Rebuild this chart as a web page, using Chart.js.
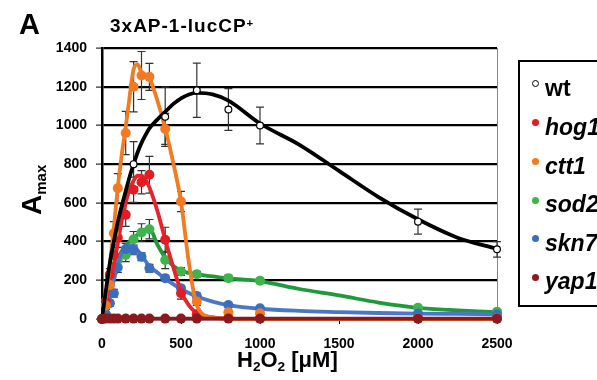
<!DOCTYPE html>
<html>
<head>
<meta charset="utf-8">
<script src="https://cdn.jsdelivr.net/npm/chart.js@4.4.1/dist/chart.umd.min.js"></script>
<style>
  html, body { margin: 0; padding: 0; background: #fff; overflow: hidden; }
  body { width: 597px; height: 380px; position: relative; font-family: "Liberation Sans", Arial, sans-serif; color: #000; }
  #chart { position: absolute; left: 0; top: 0; }
  .txt { position: absolute; white-space: nowrap; font-weight: bold; line-height: 1; }
  #legend { position: absolute; left: 518px; top: 60px; width: 120px; height: 243px; border: 2px solid #000; }
  .item { position: absolute; left: 25px; font-size: 23px; font-weight: bold; line-height: 1; white-space: nowrap; }
  .dot { position: absolute; left: 12px; width: 7px; height: 7px; border-radius: 50%; }
  .lo { position: relative; top: 0.3em; font-size: 0.62em; }
  .hi { position: relative; top: -0.45em; font-size: 0.6em; }
</style>
</head>
<body>
<canvas id="chart" width="597" height="380"></canvas>

<div class="txt" style="left:19px; top:10px; font-size:29px;">A</div>
<div class="txt" style="left:110px; top:16px; font-size:19px; letter-spacing:1px;">3xAP-1-lucCP<span class="hi">+</span></div>
<div class="txt" style="left:18px; top:215px; font-size:28px; transform-origin:0 0; transform:rotate(-90deg);">A<span class="lo" style="font-size:15px;top:5px;">max</span></div>
<div class="txt" style="left:237px; top:349px; font-size:22px;">H<span class="lo">2</span>O<span class="lo">2</span> [&mu;M]</div>

<div id="legend"></div>

<script>
// H2O2 concentrations (uM) of the measured points
const concX = [0, 25, 50, 75, 100, 150, 200, 250, 300, 400, 500, 600, 800, 1000, 2000, 2500];

// measured Amax per strain (null = not visible)
const wtY   = [null, null, null, null, null, null, 800, null, null, 1045, null, 1182, 1082, 1000, 503, 360];
const hog1Y = [0, 90, 230, 330, 420, 538, 668, 706, 745, 409, 133, 25, 5, 3, 2, 2];
const ctt1Y = [0, 70, 176, 443, 676, 961, 1200, 1258, 1251, 982, 607, 90, 35, 30, 5, 5];
const sod2Y = [0, 90, 217, 262, 307, 331, 412, 447, 464, 305, 245, 231, 211, 198, 58, 38];
const skn7Y = [0, 25, 81, 133, 266, 361, 357, 322, 262, 211, 159, 119, 72, 55, 28, 25];
const yap1Y = [0, 2, 2, 2, 2, 2, 2, 2, 2, 2, 2, 2, 2, 2, 2, 2];

// error bars (+/-)
const wtErr   = [0, 0, 0, 0, 0, 0, 116, 0, 0, 153, 0, 140, 108, 95, 65, 40];
const hog1Err = [0, 20, 30, 40, 50, 60, 65, 60, 95, 65, 30, 10, 5, 5, 0, 0];
const ctt1Err = [0, 20, 40, 60, 75, 112, 130, 124, 70, 80, 52, 20, 10, 10, 0, 0];
const sod2Err = [0, 15, 20, 25, 30, 35, 40, 45, 50, 45, 20, 15, 15, 12, 10, 8];
const skn7Err = [0, 10, 15, 20, 25, 30, 25, 20, 20, 15, 15, 15, 10, 10, 5, 5];

// fitted curves
const fitX    = [0, 25, 50, 75, 100, 125, 150, 175, 200, 225, 250, 275, 300, 350, 400, 450, 500, 550, 600, 700, 800, 1000, 1250, 1500, 1750, 2000, 2250, 2500];
const wtFit   = [0, 150, 290, 400, 500, 585, 660, 735, 800, 860, 910, 950, 985, 1030, 1070, 1110, 1140, 1160, 1168, 1160, 1128, 1010, 900, 765, 630, 515, 420, 362];
const hog1Fit = [0, 90, 200, 280, 390, 510, 600, 670, 715, 740, 740, 720, 680, 560, 410, 270, 145, 70, 30, 8, 2, 0, 0, 0, 0, 0, 0, 0];
const ctt1Fit = [0, 120, 280, 470, 680, 850, 990, 1150, 1290, 1315, 1275, 1262, 1245, 1130, 985, 810, 605, 290, 70, 8, 2, 0, 0, 0, 0, 0, 0, 0];
const sod2Fit = [0, 95, 200, 265, 310, 350, 380, 400, 418, 435, 450, 463, 468, 385, 318, 275, 250, 238, 230, 220, 210, 196, 155, 122, 85, 58, 45, 35];
const skn7Fit = [0, 40, 110, 200, 280, 340, 370, 380, 375, 355, 330, 300, 272, 240, 208, 180, 155, 134, 116, 90, 72, 53, 42, 36, 31, 28, 26, 24];
const yap1Fit = fitX.map(() => 2);

const strains = ['wt', 'hog1', 'ctt1', 'sod2', 'skn7', 'yap1'];
const dotColors  = ['#ffffff', '#e31b23', '#f47920', '#3db54a', '#3a6fbf', '#8b1a1f'];
const lineColors = ['#000000', '#e8232b', '#f37b22', '#1f9a3a', '#4a78c8', '#8b1a1f'];

const pointsY = [wtY, hog1Y, ctt1Y, sod2Y, skn7Y, yap1Y];
const errs = [wtErr, hog1Err, ctt1Err, sod2Err, skn7Err, null];
const fits = [wtFit, hog1Fit, ctt1Fit, sod2Fit, skn7Fit, yap1Fit];

// stacking: smaller order is drawn on top
const drawOrder = [2, 6, 4, 10, 8, 0];

const datasets = [];
strains.forEach((name, i) => {
  datasets.push({
    label: name + ' fit',
    data: fitX.map((x, j) => ({ x: x, y: fits[i][j] })),
    showLine: true,
    pointRadius: 0,
    borderColor: lineColors[i],
    borderWidth: 3.8,
    cubicInterpolationMode: 'monotone',
    clip: false,
    order: drawOrder[i] + 1
  });
  const pts = [];
  const e = [];
  concX.forEach((x, j) => {
    if (pointsY[i][j] === null) return;
    pts.push({ x: x, y: pointsY[i][j] });
    e.push(errs[i] ? errs[i][j] : 0);
  });
  datasets.push({
    label: name,
    data: pts,
    errors: e,
    showLine: false,
    pointStyle: 'circle',
    pointRadius: i === 0 ? 3.4 : 5,
    backgroundColor: dotColors[i],
    borderColor: i === 0 ? '#000' : dotColors[i],
    borderWidth: i === 0 ? 1.2 : 0,
    clip: false,
    order: drawOrder[i]
  });
});

// vertical error bars under the markers
const errorBars = {
  id: 'errorBars',
  beforeDatasetsDraw(chart) {
    const c = chart.ctx;
    const xs = chart.scales.x, ys = chart.scales.y;
    c.save();
    c.strokeStyle = '#333';
    c.lineWidth = 1.2;
    chart.data.datasets.forEach(ds => {
      if (!ds.errors) return;
      ds.data.forEach((p, j) => {
        const err = ds.errors[j];
        if (!err) return;
        const px = xs.getPixelForValue(p.x);
        const top = ys.getPixelForValue(p.y + err);
        const bot = ys.getPixelForValue(Math.max(0, p.y - err));
        c.beginPath();
        c.moveTo(px, top); c.lineTo(px, bot);
        c.moveTo(px - 4, top); c.lineTo(px + 4, top);
        c.moveTo(px - 4, bot); c.lineTo(px + 4, bot);
        c.stroke();
      });
    });
    c.restore();
  }
};

const tickFont = { family: '"Liberation Sans", Arial, sans-serif', size: 14, weight: 'bold' };

new Chart(document.getElementById('chart').getContext('2d'), {
  type: 'scatter',
  data: { datasets: datasets },
  options: {
    responsive: false,
    animation: false,
    events: [],
    layout: { padding: { left: 0, top: 48, right: 100, bottom: 0 } },
    plugins: { legend: { display: false }, tooltip: { enabled: false } },
    scales: {
      x: {
        type: 'linear',
        min: 0, max: 2500,
        afterFit: s => { s.height = 61; },
        ticks: { stepSize: 500, color: '#000', font: tickFont, padding: 12, maxRotation: 0, callback: v => String(v) },
        grid: {
          color: c => (c.tick && c.tick.value === 2500) ? '#888' : 'rgba(0,0,0,0)',
          lineWidth: 1,
          tickColor: '#000',
          tickLength: 5,
          tickWidth: 1
        },
        border: { color: '#555', width: 1.5 }
      },
      y: {
        min: 0, max: 1400,
        afterFit: s => { s.width = 102; },
        ticks: { stepSize: 200, color: '#000', font: tickFont, padding: 9, callback: v => String(v) },
        grid: { color: '#000', lineWidth: 2.2, tickColor: '#000', tickLength: 6, tickWidth: 1 },
        border: { color: '#000', width: 2.5 }
      }
    }
  },
  plugins: [errorBars]
});

// legend box
const legend = document.getElementById('legend');
const baselines = [96, 135, 174, 212.5, 251, 289.5];
strains.forEach((name, i) => {
  const yb = baselines[i] - 62;
  const dot = document.createElement('div');
  dot.className = 'dot';
  dot.style.top = (yb - 16) + 'px';
  dot.style.background = dotColors[i];
  if (i === 0) { dot.style.border = '1.2px solid #000'; dot.style.width = '5px'; dot.style.height = '5px'; }
  legend.appendChild(dot);
  const t = document.createElement('div');
  t.className = 'item';
  t.style.top = (yb - 19.5) + 'px';
  t.style.fontStyle = i === 0 ? 'normal' : 'italic';
  t.textContent = name;
  legend.appendChild(t);
});
</script>
</body>
</html>
